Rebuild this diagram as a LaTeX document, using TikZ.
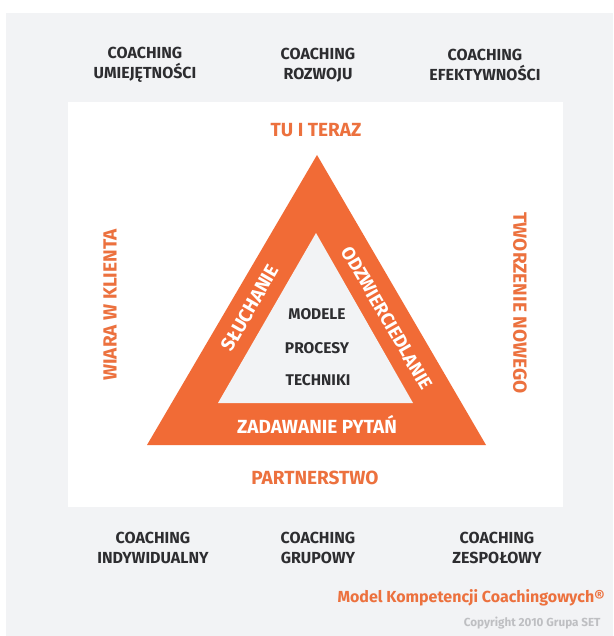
\documentclass[tikz,border=0pt]{standalone}
\usepackage{fontspec}
\setmainfont{Fira Sans}
\usetikzlibrary{positioning}
\definecolor{setorange}{RGB}{241,107,54}
\definecolor{labelorange}{RGB}{236,113,62}
\definecolor{panelgray}{RGB}{242,243,245}
\definecolor{darktext}{RGB}{45,45,48}
\definecolor{copygray}{RGB}{190,191,194}
\tikzstyle{kind} = [text=darktext, align=center, font=\bfseries\fontsize{16}{20}\selectfont]
\tikzstyle{pillar} = [text=labelorange, font=\bfseries\fontsize{19}{22}\selectfont]
\tikzstyle{skill} = [text=white, font=\bfseries\fontsize{19}{22}\selectfont]
\tikzstyle{tool} = [text=darktext, font=\bfseries\fontsize{15.5}{20}\selectfont]

\begin{document}
\begin{tikzpicture}[x=1pt, y=-1pt]
 \useasboundingbox (0,0) rectangle (613,636);
 \fill[white] (0,0) rectangle (613,636);
 \fill[panelgray] (6,13) rectangle (613,636);
 \fill[white] (68,102) rectangle (563,507);

 % triangle
 \coordinate (top) at (317,155);
 \coordinate (left) at (147,445);
 \coordinate (right) at (486,445);
 \coordinate (itop) at (316,233);
 \coordinate (ileft) at (218,403);
 \coordinate (iright) at (413,403);
 \fill[setorange] (top) -- (right) -- (left) -- cycle;
 \fill[panelgray] (itop) -- (iright) -- (ileft) -- cycle;

 % coaching types
 \node (skills) [kind] at (145,65) {COACHING\\UMIEJĘTNOŚCI};
 \node (growth) [kind] at (318,65) {COACHING\\ROZWOJU};
 \node (results) [kind] at (485,65) {COACHING\\EFEKTYWNOŚCI};
 \node (single) [kind] at (153,548) {COACHING\\INDYWIDUALNY};
 \node (group) [kind] at (318,548) {COACHING\\GRUPOWY};
 \node (team) [kind] at (497,548) {COACHING\\ZESPOŁOWY};

 % attitudes
 \node (now) [pillar] at (316,130) {TU I TERAZ};
 \node (trust) [pillar, rotate=90] at (110,305) {WIARA W KLIENTA};
 \node (create) [pillar, rotate=-90] at (520,303) {TWORZENIE NOWEGO};
 \node (partner) [pillar] at (315,478) {PARTNERSTWO};

 % competences
 \node (listen) [skill, rotate=60] at (250,308) {SŁUCHANIE};
 \node (mirror) [skill, rotate=-60, font=\bfseries\fontsize{18.5}{22}\selectfont] at (387,318) {ODZWIERCIEDLANIE};
 \node (ask) [skill] at (317,424) {ZADAWANIE PYTAŃ};

 \node (models) [tool] at (317,314) {MODELE};
 \node (process) [tool] at (317,348) {PROCESY};
 \node (tech) [tool] at (318,380) {TECHNIKI};

 \node (title) [anchor=east, text=labelorange, font=\bfseries\fontsize{16}{18}\selectfont] at (608,598) {Model Kompetencji Coachingowych®};
 \node (copy) [anchor=east, text=copygray, font=\bfseries\fontsize{11.7}{14}\selectfont] at (604,623) {Copyright 2010 Grupa SET};
\end{tikzpicture}
\end{document}
